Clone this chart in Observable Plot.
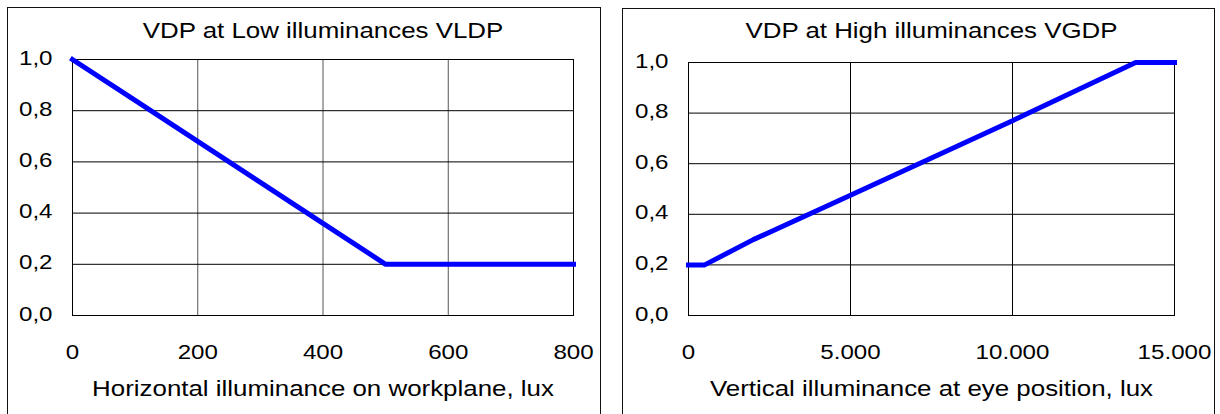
<!DOCTYPE html>
<html>
<head>
<meta charset="utf-8">
<script src="https://cdn.jsdelivr.net/npm/d3@7"></script>
<script src="https://cdn.jsdelivr.net/npm/@observablehq/plot@0.6"></script>
<style>
  html, body { margin: 0; padding: 0; background: #fff; }
  #wrap { position: relative; width: 1220px; height: 414px; overflow: hidden; background: #fff; }
  .box { position: absolute; border: 1px solid #111; border-bottom: none; box-sizing: border-box; }
  .panel { position: absolute; top: 0; }
</style>
</head>
<body>
<div id="wrap">
  <div class="box" style="left:7px; top:7px; width:594px; height:420px;"></div>
  <div class="box" style="left:622px; top:8px; width:593px; height:420px;"></div>
  <div class="panel" id="p1" style="left:0px;"></div>
  <div class="panel" id="p2" style="left:610px;"></div>
</div>
<script>
// ---- data ----
const lowTitle = "VDP at Low illuminances VLDP";
const lowXLabel = "Horizontal illuminance on workplane, lux";
const lowX = [0, 100, 200, 300, 400, 500, 800];
const lowY = [1.0, 0.84, 0.68, 0.52, 0.36, 0.2, 0.2];
const lowXTicks = [0, 200, 400, 600, 800];

const highTitle = "VDP at High illuminances VGDP";
const highXLabel = "Vertical illuminance at eye position, lux";
const highX = [0, 500, 2000, 5000, 10000, 13800, 15000];
const highY = [0.2, 0.2, 0.3, 0.475, 0.77, 1.0, 1.0];
const highXTicks = [0, 5000, 10000, 15000];

const yTicks = [0, 0.2, 0.4, 0.6, 0.8, 1.0];

// ---- formatting ----
const loc = d3.formatLocale({decimal: ",", thousands: ".", grouping: [3], currency: ["", "€"]});
const fmtY = loc.format(".1f");
const fmtX = loc.format(",");

const FONT = "'Liberation Sans', Arial, Helvetica, sans-serif";
const STRETCH = 1.177;

// widen glyphs horizontally around each text's anchor (svg must be in the DOM)
function stretch(svg, k) {
  svg.querySelectorAll("text").forEach(t => {
    const b = t.getBBox();
    const anchor = getComputedStyle(t).textAnchor;
    const ax = anchor === "middle" ? b.x + b.width / 2 : anchor === "end" ? b.x + b.width : b.x;
    const tr = t.getAttribute("transform") || "";
    t.setAttribute("transform", `${tr} translate(${ax},0) scale(${k},1) translate(${-ax},0)`.trim());
  });
}

function panel(host, {xs, ys, xDomain, xTicks, title, xLabel, marginLeft, marginRight, marginTop, vGridColor}) {
  const data = xs.map((x, i) => ({x, y: ys[i]}));
  const svg = Plot.plot({
    width: 610,
    height: 414,
    marginLeft,
    marginRight,
    marginTop,
    marginBottom: 99,
    x: {domain: xDomain},
    y: {domain: [0, 1]},
    style: {fontFamily: FONT, fontSize: "20.5px", color: "#000", background: "transparent", overflow: "visible"},
    marks: [
      Plot.gridX(xTicks, {stroke: vGridColor, strokeOpacity: 1, strokeWidth: 1}),
      Plot.gridY(yTicks, {stroke: "#000", strokeOpacity: 1, strokeWidth: 1}),
      Plot.frame({stroke: "#000", strokeWidth: 1}),
      Plot.axisX(xTicks, {tickSize: 0, tickPadding: 29, tickFormat: fmtX, label: null, fill: "#000"}),
      Plot.axisY(yTicks, {tickSize: 0, tickPadding: 20, tickFormat: fmtY, label: null, fill: "#000", dy: -1.5}),
      Plot.line(data, {x: "x", y: "y", stroke: "#0000ff", strokeWidth: 5, strokeLinejoin: "miter", strokeLinecap: "square"}),
      Plot.text([title], {text: d => d, frameAnchor: "top", dy: -(marginTop - 30), fontSize: 22, fill: "#000", lineAnchor: "middle"}),
      Plot.text([xLabel], {text: d => d, frameAnchor: "bottom", dy: 73, fontSize: 22, fill: "#000", lineAnchor: "middle"})
    ]
  });
  host.appendChild(svg);
  stretch(svg, STRETCH);
}

panel(document.getElementById("p1"), {
  xs: lowX, ys: lowY, xDomain: [0, 800], xTicks: lowXTicks,
  title: lowTitle, xLabel: lowXLabel,
  marginLeft: 72, marginRight: 37, marginTop: 59, vGridColor: "#555"
});
panel(document.getElementById("p2"), {
  xs: highX, ys: highY, xDomain: [0, 15000], xTicks: highXTicks,
  title: highTitle, xLabel: highXLabel,
  marginLeft: 78, marginRight: 46, marginTop: 62, vGridColor: "#000"
});
</script>
</body>
</html>
